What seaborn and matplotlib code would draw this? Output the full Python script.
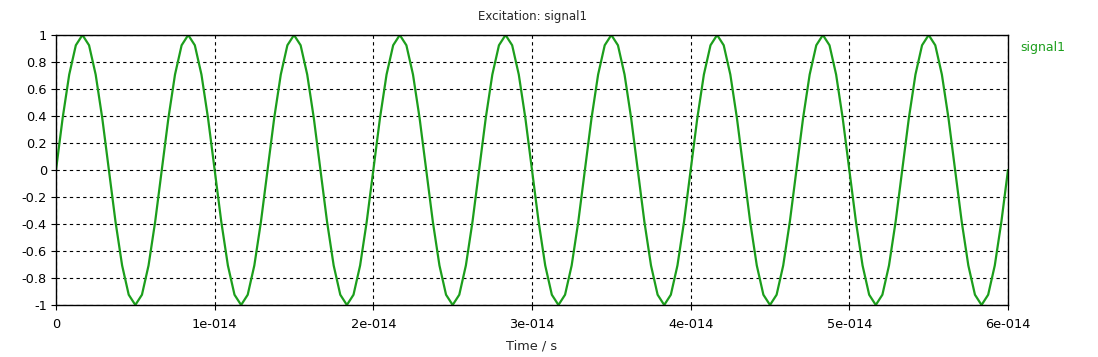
import matplotlib
matplotlib.use("Agg")
import matplotlib.pyplot as plt
import seaborn as sns
import pandas as pd

# Time samples in femtoseconds (9 cycles over 0..60 fs)
time_fs = [
    0, 0.417, 0.833, 1.25, 1.667, 2.083, 2.5, 2.917, 3.333, 3.75, 4.167, 4.583,
    5, 5.417, 5.833, 6.25, 6.667, 7.083, 7.5, 7.917, 8.333, 8.75, 9.167, 9.583,
    10, 10.417, 10.833, 11.25, 11.667, 12.083, 12.5, 12.917, 13.333, 13.75, 14.167, 14.583,
    15, 15.417, 15.833, 16.25, 16.667, 17.083, 17.5, 17.917, 18.333, 18.75, 19.167, 19.583,
    20, 20.417, 20.833, 21.25, 21.667, 22.083, 22.5, 22.917, 23.333, 23.75, 24.167, 24.583,
    25, 25.417, 25.833, 26.25, 26.667, 27.083, 27.5, 27.917, 28.333, 28.75, 29.167, 29.583,
    30, 30.417, 30.833, 31.25, 31.667, 32.083, 32.5, 32.917, 33.333, 33.75, 34.167, 34.583,
    35, 35.417, 35.833, 36.25, 36.667, 37.083, 37.5, 37.917, 38.333, 38.75, 39.167, 39.583,
    40, 40.417, 40.833, 41.25, 41.667, 42.083, 42.5, 42.917, 43.333, 43.75, 44.167, 44.583,
    45, 45.417, 45.833, 46.25, 46.667, 47.083, 47.5, 47.917, 48.333, 48.75, 49.167, 49.583,
    50, 50.417, 50.833, 51.25, 51.667, 52.083, 52.5, 52.917, 53.333, 53.75, 54.167, 54.583,
    55, 55.417, 55.833, 56.25, 56.667, 57.083, 57.5, 57.917, 58.333, 58.75, 59.167, 59.583,
    60,
]

signal1 = [
    0, 0.383, 0.707, 0.924, 1, 0.924, 0.707, 0.383, 0, -0.383, -0.707, -0.924, -1, -0.924, -0.707, -0.383,
    0, 0.383, 0.707, 0.924, 1, 0.924, 0.707, 0.383, 0, -0.383, -0.707, -0.924, -1, -0.924, -0.707, -0.383,
    0, 0.383, 0.707, 0.924, 1, 0.924, 0.707, 0.383, 0, -0.383, -0.707, -0.924, -1, -0.924, -0.707, -0.383,
    0, 0.383, 0.707, 0.924, 1, 0.924, 0.707, 0.383, 0, -0.383, -0.707, -0.924, -1, -0.924, -0.707, -0.383,
    0, 0.383, 0.707, 0.924, 1, 0.924, 0.707, 0.383, 0, -0.383, -0.707, -0.924, -1, -0.924, -0.707, -0.383,
    0, 0.383, 0.707, 0.924, 1, 0.924, 0.707, 0.383, 0, -0.383, -0.707, -0.924, -1, -0.924, -0.707, -0.383,
    0, 0.383, 0.707, 0.924, 1, 0.924, 0.707, 0.383, 0, -0.383, -0.707, -0.924, -1, -0.924, -0.707, -0.383,
    0, 0.383, 0.707, 0.924, 1, 0.924, 0.707, 0.383, 0, -0.383, -0.707, -0.924, -1, -0.924, -0.707, -0.383,
    0, 0.383, 0.707, 0.924, 1, 0.924, 0.707, 0.383, 0, -0.383, -0.707, -0.924, -1, -0.924, -0.707, -0.383,
    0,
]

x_ticks = [0, 1e-14, 2e-14, 3e-14, 4e-14, 5e-14, 6e-14]
x_tick_labels = ["0", "1e-014", "2e-014", "3e-014", "4e-014", "5e-014", "6e-014"]
y_ticks = [1, 0.8, 0.6, 0.4, 0.2, 0, -0.2, -0.4, -0.6, -0.8, -1]
y_tick_labels = ["1", "0.8", "0.6", "0.4", "0.2", "0", "-0.2", "-0.4", "-0.6", "-0.8", "-1"]

title = "Excitation: signal1"
series_name = "signal1"
x_label = "Time / s"

df = pd.DataFrame({"time": [t * 1e-15 for t in time_fs], "value": signal1})

sns.set_style("white")
plt.rcParams["font.family"] = ["DejaVu Sans"]

fig = plt.figure(figsize=(10.98, 3.57), dpi=100)
ax = fig.add_axes([56 / 1098, 1 - 305 / 357, (1008 - 56) / 1098, (305 - 35) / 357])

green = "#1c9e1c"
sns.lineplot(data=df, x="time", y="value", ax=ax, color=green, linewidth=1.6, legend=False)

ax.set_xlim(0, 6e-14)
ax.set_ylim(-1, 1)
ax.set_xticks(x_ticks)
ax.set_xticklabels(x_tick_labels, fontsize=9.3)
ax.set_yticks(y_ticks)
ax.set_yticklabels(y_tick_labels, fontsize=9.3)
ax.tick_params(axis="x", pad=6)
ax.tick_params(axis="y", pad=3)
ax.set_xlabel(x_label, fontsize=9.3, labelpad=6)
ax.set_ylabel("")
ax.set_title(title, fontsize=8.5, pad=11)

ax.grid(True, color="black", linestyle=(0, (3, 3)), linewidth=0.8)
ax.tick_params(axis="both", direction="out", length=3.5, width=0.8, color="black",
               labelcolor="black", bottom=True, left=True)
for side, sp in ax.spines.items():
    sp.set_visible(True)
    sp.set_color("black")
    sp.set_linewidth(1.0)

fig.text(1020 / 1098, 1 - 47 / 357, series_name, color=green, fontsize=9, va="center", ha="left")

fig.savefig("out.png", dpi=100)
